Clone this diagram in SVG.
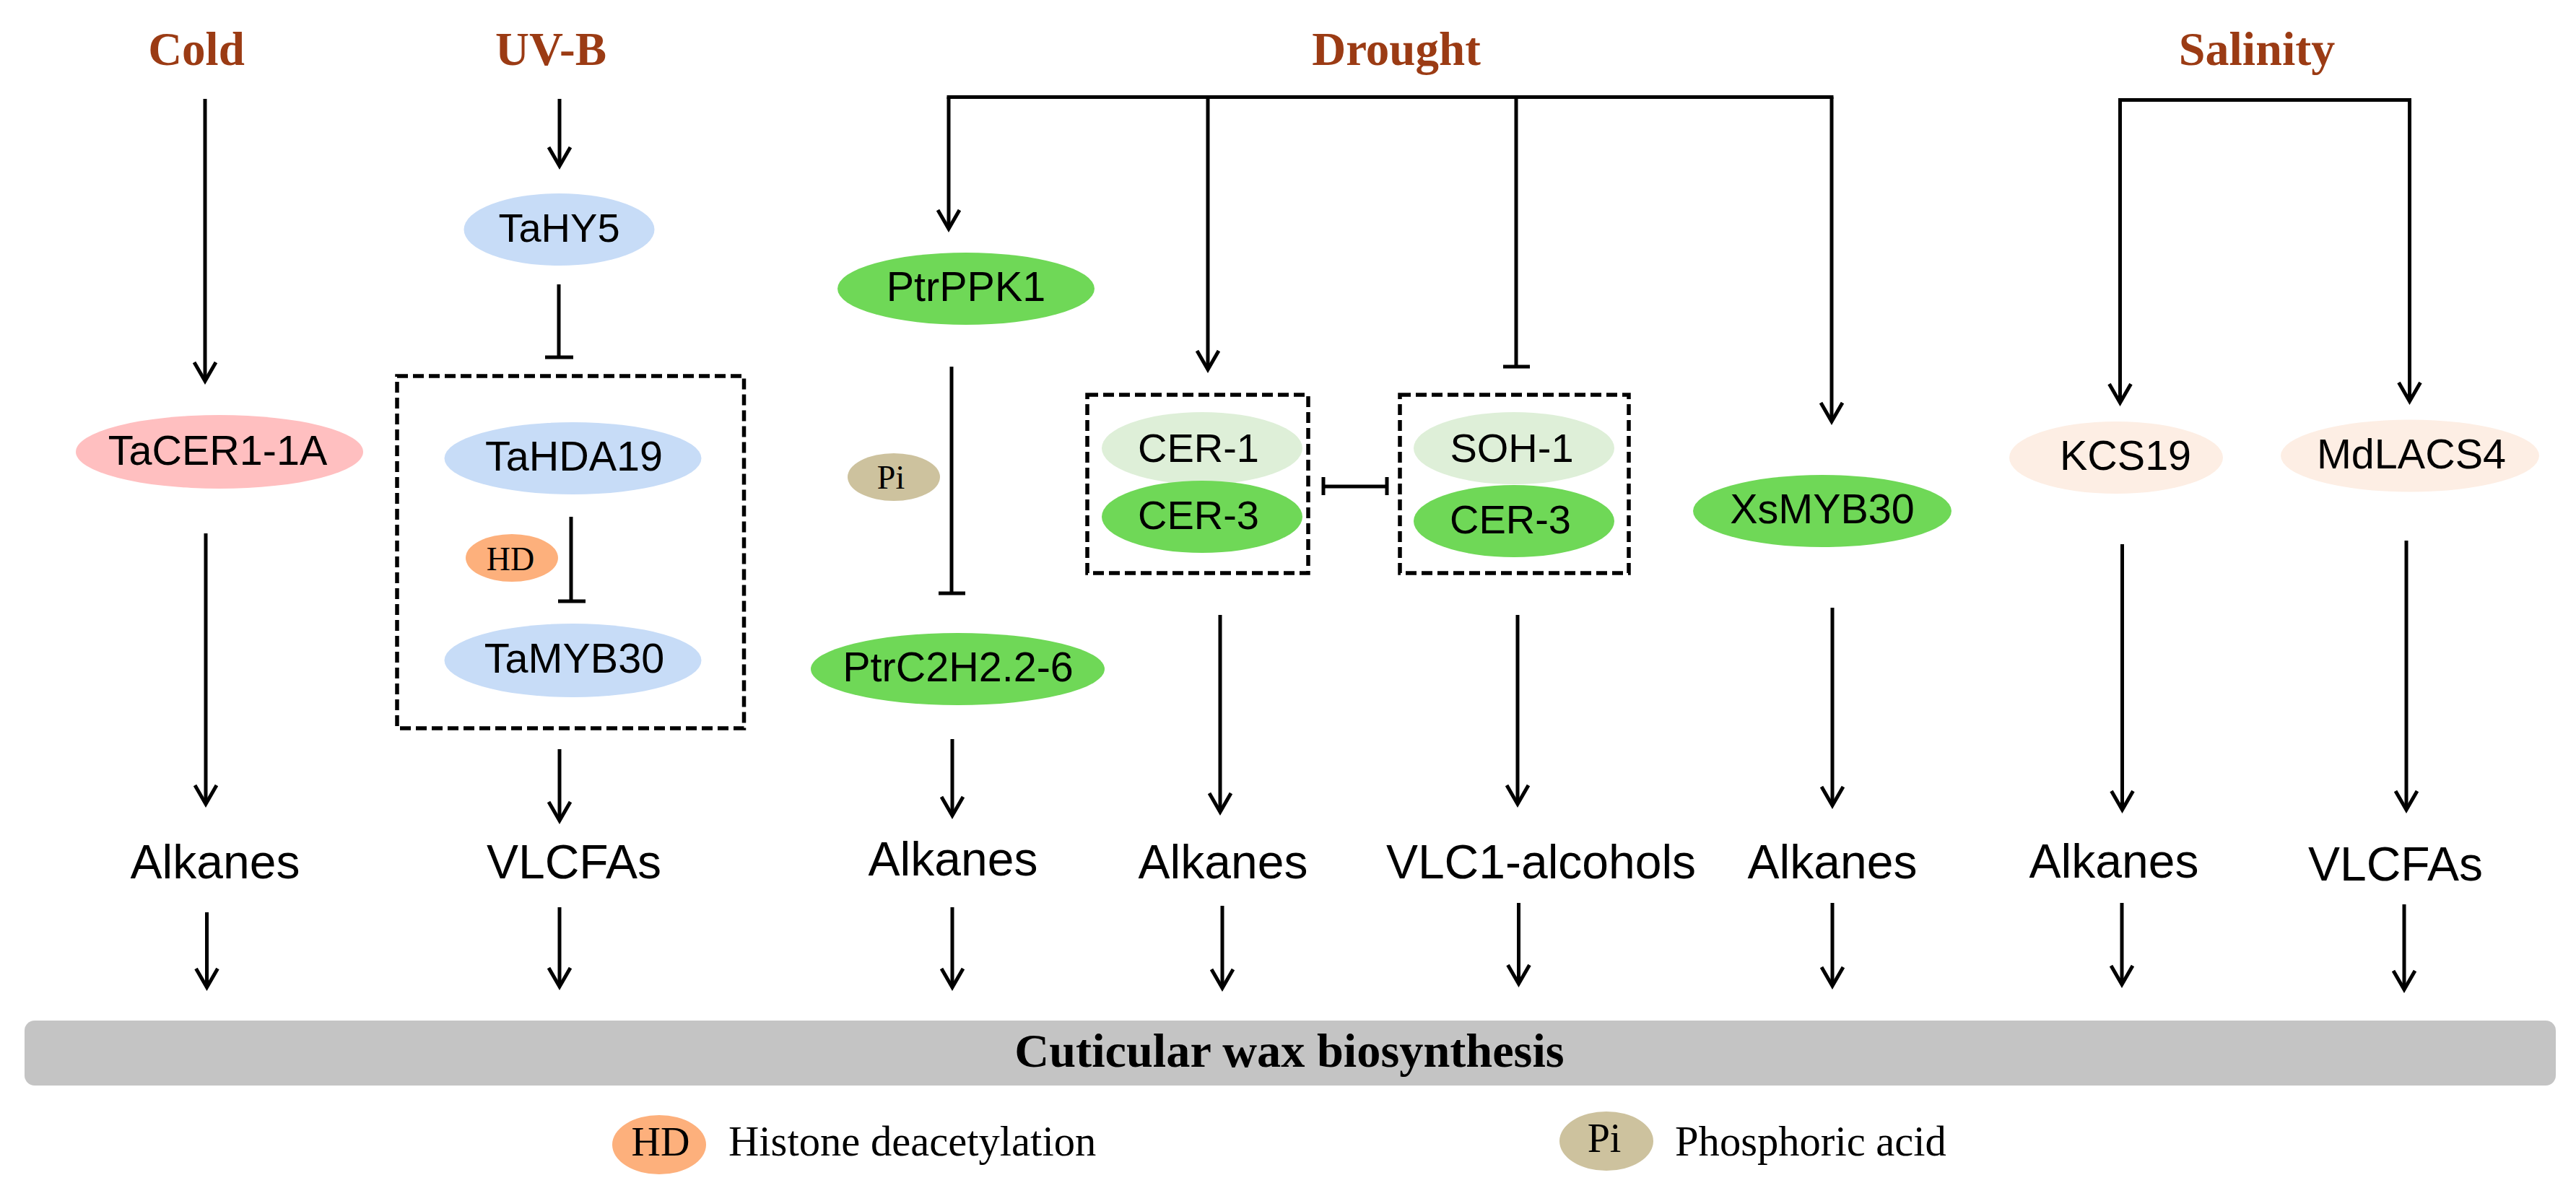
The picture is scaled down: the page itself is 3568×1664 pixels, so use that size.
<svg xmlns="http://www.w3.org/2000/svg" width="3568" height="1664" viewBox="0 0 3568 1664">
<defs>
<marker id="ah" markerUnits="userSpaceOnUse" viewBox="-30 -18 32 36" refX="0" refY="0" markerWidth="32" markerHeight="36" orient="auto" overflow="visible"><path d="M-26,-15 L0,0 L-26,15" fill="none" stroke="#000" stroke-width="5"/></marker>
</defs>
<style>
text{font-family:"Liberation Sans",Arial,sans-serif;font-size:57.500px;fill:#000;text-anchor:middle}
.s{font-family:"Liberation Serif","Times New Roman",serif;font-weight:bold;fill:#9b3b14}
.p{font-family:"Liberation Serif","Times New Roman",serif;font-size:46px}
.l{font-family:"Liberation Serif","Times New Roman",serif;font-size:58.600px;text-anchor:start}
.o{font-size:66px}
.n{font-size:56px}
.c{fill:none;stroke:#000;stroke-width:5}
.a{marker-end:url(#ah)}
.d{fill:none;stroke:#000;stroke-width:5.500;stroke-dasharray:15 7}
.blue{fill:#c7dcf7}.green{fill:#6fd857}.pale{fill:#deefd8}.peach{fill:#fdeee4}.orange{fill:#fdb07c}.tan{fill:#cdc29e}.pink{fill:#ffbfc0}
</style>
<rect width="3568" height="1664" fill="#fff"/>
<g id="stress-labels">
<text class="s" x="272" y="90" style="font-size:65px">Cold</text>
<text class="s" x="763" y="90" style="font-size:65px">UV-B</text>
<text class="s" x="1934" y="90" style="font-size:65px">Drought</text>
<text class="s" x="3126" y="90" style="font-size:66px">Salinity</text>
</g>
<g id="connectors">
<path class="c a" d="M284,137V528"/>
<path class="c a" d="M775,137V230"/>
<path class="c" d="M774,394V495M755,495H794"/>
<path class="c" d="M791,716V833M773,833H811"/>
<path class="c a" d="M285,739V1114"/>
<path class="c a" d="M775,1038V1137"/>
<path class="c" d="M1311.500,134.500H2539.500"/>
<path class="c a" d="M1314,134.500V317"/>
<path class="c a" d="M2537,134.500V584"/>
<path class="c a" d="M1673,134.500V512"/>
<path class="c" d="M2100,134.500V508M2082,508H2119"/>
<path class="c" d="M1318,508V822M1300,822H1337"/>
<path class="c" d="M1833,661V686M1833,674H1921M1921,661V686"/>
<path class="c a" d="M1319,1024V1130"/>
<path class="c a" d="M1690,852V1125"/>
<path class="c a" d="M2102,852V1114"/>
<path class="c a" d="M2538,842V1116"/>
<path class="c" d="M2934,138.500H3340"/>
<path class="c a" d="M2936.500,138.500V558"/>
<path class="c a" d="M3337.500,138.500V556"/>
<path class="c a" d="M2939.500,754V1122"/>
<path class="c a" d="M3333,749V1122"/>
<path class="c a" d="M286.500,1264V1368"/>
<path class="c a" d="M775,1257V1367"/>
<path class="c a" d="M1319,1257V1368"/>
<path class="c a" d="M1693,1255V1369"/>
<path class="c a" d="M2103.500,1251V1363"/>
<path class="c a" d="M2538,1251V1366"/>
<path class="c a" d="M2939,1251V1364"/>
<path class="c a" d="M3330,1253V1371"/>
</g>
<g id="box-hda"><rect class="d" x="550" y="521" width="480.500" height="488"/></g>
<g id="box-cer"><rect class="d" x="1506" y="547" width="306" height="247"/></g>
<g id="box-soh"><rect class="d" x="1939" y="547" width="317" height="247"/></g>
<g id="TaCER1-1A"><ellipse class="pink" cx="304" cy="626" rx="199" ry="51"/><text x="301.500" y="644">TaCER1-1A</text></g>
<g id="TaHY5"><ellipse class="blue" cx="774.500" cy="318" rx="132" ry="50"/><text class="n" x="774.500" y="335">TaHY5</text></g>
<g id="TaHDA19"><ellipse class="blue" cx="793.500" cy="635" rx="178" ry="50"/><text x="795" y="652">TaHDA19</text></g>
<g id="HD"><ellipse class="orange" cx="709" cy="773" rx="64" ry="33"/><text class="p" x="707" y="790">HD</text></g>
<g id="TaMYB30"><ellipse class="blue" cx="793.500" cy="915" rx="178" ry="51"/><text x="795.500" y="932">TaMYB30</text></g>
<g id="PtrPPK1"><ellipse class="green" cx="1338" cy="400" rx="178" ry="50"/><text x="1338" y="417">PtrPPK1</text></g>
<g id="Pi"><ellipse class="tan" cx="1238" cy="661" rx="64" ry="33"/><text class="p" x="1234" y="677">Pi</text></g>
<g id="PtrC2H2"><ellipse class="green" cx="1326.500" cy="927" rx="203.500" ry="50"/><text x="1327" y="944">PtrC2H2.2-6</text></g>
<g id="CER-1"><ellipse class="pale" cx="1665" cy="621" rx="139" ry="50"/><text class="n" x="1660" y="640">CER-1</text></g>
<g id="CER-3a"><ellipse class="green" cx="1665" cy="716" rx="139" ry="50"/><text class="n" x="1660" y="733">CER-3</text></g>
<g id="SOH-1"><ellipse class="pale" cx="2097" cy="621" rx="139" ry="50"/><text class="n" x="2094" y="640">SOH-1</text></g>
<g id="CER-3b"><ellipse class="green" cx="2097" cy="722" rx="139" ry="50"/><text class="n" x="2092" y="739">CER-3</text></g>
<g id="XsMYB30"><ellipse class="green" cx="2524" cy="708" rx="179" ry="50"/><text x="2524" y="725">XsMYB30</text></g>
<g id="KCS19"><ellipse class="peach" cx="2931" cy="634" rx="148" ry="50"/><text x="2944" y="651">KCS19</text></g>
<g id="MdLACS4"><ellipse class="peach" cx="3338" cy="631.500" rx="179" ry="50"/><text x="3340" y="649">MdLACS4</text></g>
<g id="outputs">
<text class="o" x="298" y="1217">Alkanes</text>
<text class="o" x="795" y="1217">VLCFAs</text>
<text class="o" x="1320" y="1213">Alkanes</text>
<text class="o" x="1694" y="1217">Alkanes</text>
<text class="o" x="2134.500" y="1217">VLC1-alcohols</text>
<text class="o" x="2538" y="1217">Alkanes</text>
<text class="o" x="2928" y="1216">Alkanes</text>
<text class="o" x="3318" y="1220">VLCFAs</text>
</g>
<g id="wax-bar"><rect x="34" y="1414" width="3506" height="90" rx="14" fill="#c4c4c4"/><text x="1786" y="1478" style="font-family:'Liberation Serif','Times New Roman',serif;font-weight:bold;font-size:66.300px">Cuticular wax biosynthesis</text></g>
<g id="legend-hd"><ellipse class="orange" cx="913" cy="1586" rx="65" ry="41"/><text class="p" x="915" y="1601" style="font-size:56px">HD</text><text class="l" x="1009" y="1601">Histone deacetylation</text></g>
<g id="legend-pi"><ellipse class="tan" cx="2225" cy="1581" rx="65" ry="41"/><text class="p" x="2222" y="1596" style="font-size:56px">Pi</text><text class="l" x="2320" y="1601">Phosphoric acid</text></g>
</svg>
